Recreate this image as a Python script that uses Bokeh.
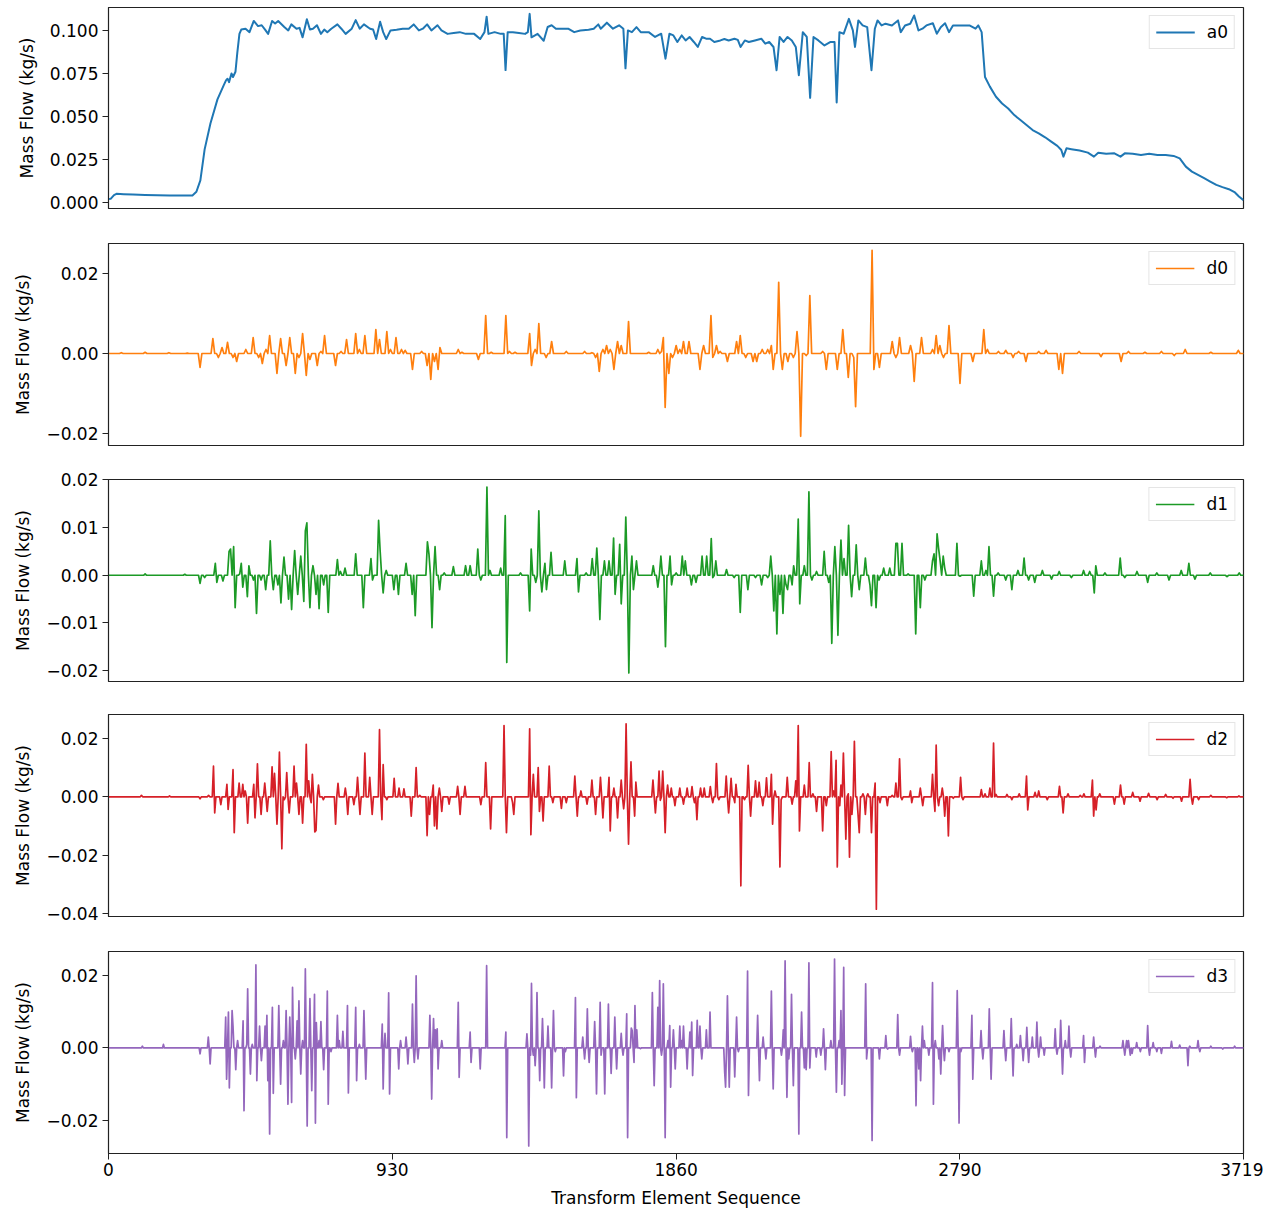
import numpy as np
from bokeh.plotting import figure
from bokeh.layouts import column
from bokeh.models import FixedTicker, CustomJSTickFormatter, Range1d
from bokeh.embed import file_html
from bokeh.resources import INLINE

# ---------------- data ----------------
x_ticks = [0, 930, 1860, 2790, 3719]
x_label = "Transform Element Sequence"
y_label = "Mass Flow (kg/s)"
series_names = ["a0", "d0", "d1", "d2", "d3"]
colors = ["#1f77b4", "#ff7f0e", "#1c9a26", "#d62028", "#9467bd"]

# approximation a0: (sequence index, value)
a0 = [(0, 0.0022), (7, 0.0023), (18, 0.0045), (26, 0.0052), (50, 0.0050), (80, 0.0048), (120, 0.0046),
      (160, 0.0044), (200, 0.0043), (240, 0.0042), (275, 0.0043), (288, 0.0064), (301, 0.013), (315, 0.031),
      (334, 0.046), (357, 0.060), (377, 0.068), (385, 0.071), (390, 0.072), (395, 0.070), (403, 0.075),
      (408, 0.073), (416, 0.076), (422, 0.087), (429, 0.098), (435, 0.1005), (449, 0.101), (462, 0.099),
      (476, 0.1055), (490, 0.1025), (502, 0.103), (513, 0.1005), (523, 0.098), (536, 0.1055), (546, 0.104),
      (556, 0.1055), (576, 0.102), (589, 0.100), (599, 0.1035), (616, 0.101), (626, 0.1015), (636, 0.096),
      (650, 0.1065), (660, 0.1005), (670, 0.101), (683, 0.103), (696, 0.098), (707, 0.1005), (717, 0.099),
      (730, 0.101), (750, 0.1035), (763, 0.101), (777, 0.098), (797, 0.101), (810, 0.106), (823, 0.101),
      (837, 0.1035), (857, 0.101), (867, 0.1005), (877, 0.095), (890, 0.105), (900, 0.099), (910, 0.095),
      (924, 0.100), (944, 0.1004), (964, 0.101), (984, 0.101), (1000, 0.1035), (1017, 0.100), (1030, 0.101),
      (1044, 0.1035), (1058, 0.100), (1078, 0.103), (1091, 0.100), (1111, 0.098), (1131, 0.0985),
      (1151, 0.099), (1171, 0.098), (1198, 0.098), (1218, 0.095), (1232, 0.099), (1239, 0.108),
      (1245, 0.098), (1265, 0.099), (1285, 0.098), (1295, 0.098), (1301, 0.077), (1308, 0.099),
      (1325, 0.099), (1345, 0.0985), (1365, 0.098), (1374, 0.099), (1380, 0.1096), (1386, 0.096),
      (1406, 0.098), (1426, 0.094), (1439, 0.102), (1452, 0.103), (1466, 0.101), (1486, 0.101),
      (1506, 0.101), (1526, 0.099), (1546, 0.100), (1573, 0.1004), (1590, 0.101), (1605, 0.1035),
      (1613, 0.101), (1633, 0.1045), (1653, 0.101), (1673, 0.103), (1687, 0.101), (1694, 0.078),
      (1702, 0.100), (1715, 0.099), (1730, 0.1019), (1744, 0.099), (1770, 0.099), (1791, 0.0962),
      (1811, 0.0981), (1825, 0.0836), (1838, 0.0981), (1851, 0.0971), (1864, 0.0933), (1878, 0.0971),
      (1891, 0.0942), (1904, 0.0962), (1918, 0.0933), (1931, 0.0904), (1945, 0.0962), (1958, 0.0952),
      (1971, 0.0952), (1985, 0.0933), (2005, 0.0942), (2018, 0.0950), (2032, 0.0942), (2051, 0.0952),
      (2062, 0.0945), (2071, 0.0904), (2085, 0.0942), (2098, 0.0933), (2118, 0.0942), (2139, 0.0952),
      (2152, 0.0923), (2165, 0.0933), (2179, 0.0904), (2189, 0.0769), (2199, 0.0962), (2212, 0.0933),
      (2225, 0.0962), (2239, 0.0942), (2252, 0.0904), (2262, 0.074), (2275, 0.099), (2288, 0.0962),
      (2299, 0.0609), (2310, 0.0962), (2326, 0.0942), (2346, 0.0913), (2366, 0.0933), (2379, 0.0933),
      (2386, 0.0582), (2395, 0.099), (2409, 0.0981), (2426, 0.1067), (2439, 0.100), (2446, 0.0904),
      (2457, 0.1058), (2471, 0.1029), (2486, 0.1019), (2500, 0.0769), (2511, 0.101), (2520, 0.1058),
      (2533, 0.1029), (2546, 0.1039), (2567, 0.1029), (2587, 0.1058), (2596, 0.099), (2610, 0.1029),
      (2627, 0.1039), (2640, 0.1087), (2654, 0.100), (2667, 0.101), (2680, 0.1029), (2701, 0.1042),
      (2714, 0.0981), (2727, 0.1019), (2741, 0.1042), (2754, 0.099), (2767, 0.1029), (2794, 0.1029),
      (2821, 0.1029), (2841, 0.101), (2850, 0.1029), (2861, 0.099), (2872, 0.073), (2888, 0.0674),
      (2908, 0.0615), (2928, 0.0576), (2948, 0.0547), (2968, 0.0509), (2988, 0.048), (3008, 0.0451),
      (3028, 0.0422), (3048, 0.0403), (3069, 0.038), (3089, 0.0355), (3109, 0.033), (3122, 0.0306),
      (3129, 0.0268), (3139, 0.0316), (3155, 0.0311), (3182, 0.0303), (3209, 0.0291), (3229, 0.0268),
      (3243, 0.0291), (3269, 0.0284), (3296, 0.0287), (3316, 0.0268), (3330, 0.0287), (3356, 0.0284),
      (3383, 0.0278), (3410, 0.0284), (3437, 0.0278), (3464, 0.0278), (3490, 0.0272), (3510, 0.0258),
      (3530, 0.021), (3550, 0.0181), (3570, 0.0162), (3590, 0.0143), (3610, 0.0123), (3630, 0.0104),
      (3650, 0.0091), (3671, 0.0079), (3691, 0.006), (3704, 0.0037), (3719, 0.0015)]

# detail series: non-zero coefficients (sequence index, value); all other samples are ~0
d0 = [(40, 0.0002), (120, 0.0003), (200, 0.0002), (260, 0.0001),
      (301, -0.0035), (341, 0.0037), (357, -0.001), (374, 0.0015), (390, 0.0028), (406, -0.001),
      (423, -0.002), (449, 0.001), (475, 0.004), (492, -0.001), (501, -0.0025), (518, 0.001), (531, 0.0045),
      (550, -0.005), (564, 0.0037), (577, 0.0), (583, -0.003), (596, 0.004), (609, -0.005), (623, -0.001),
      (636, 0.005), (649, -0.0055), (662, -0.0015), (682, -0.003), (695, 0.0005), (711, 0.0045), (727, 0.0),
      (744, -0.003), (760, 0.0005), (777, 0.0035), (793, 0.0), (809, 0.005), (822, 0.001), (839, 0.0045),
      (855, 0.0), (878, 0.006), (891, 0.0035), (911, 0.0055), (924, 0.001), (944, 0.004), (957, 0.001),
      (973, 0.0008), (999, -0.004), (1012, 0.0), (1026, 0.0005), (1042, -0.003), (1055, -0.0065),
      (1068, -0.002), (1081, -0.004), (1088, 0.0015), (1144, 0.001), (1160, 0.0003), (1212, -0.0015),
      (1239, 0.0095), (1252, 0.0003), (1301, 0.0095), (1314, 0.0005), (1334, 0.0003), (1380, 0.005),
      (1386, -0.003), (1399, 0.001), (1412, 0.0075), (1435, -0.001), (1452, 0.003), (1497, 0.0005),
      (1563, 0.0005), (1586, 0.0002), (1599, -0.001), (1608, -0.0045), (1622, 0.001), (1632, 0.002),
      (1642, 0.001), (1655, -0.004), (1668, 0.003), (1678, 0.002), (1701, 0.008), (1769, 0.0003),
      (1799, 0.001), (1812, 0.0005), (1819, 0.004), (1825, -0.0135), (1838, -0.005), (1845, -0.001),
      (1858, 0.002), (1871, 0.001), (1884, 0.003), (1904, 0.003), (1937, -0.004), (1950, 0.002),
      (1973, 0.0095), (1979, -0.001), (1992, 0.002), (2005, 0.0005), (2025, -0.002), (2058, 0.003),
      (2071, 0.0045), (2090, -0.001), (2110, -0.002), (2127, -0.002), (2140, 0.001), (2159, 0.001),
      (2172, 0.002), (2179, -0.004), (2195, 0.0178), (2208, -0.004), (2225, -0.002), (2245, -0.001),
      (2258, 0.0055), (2271, -0.0207), (2284, -0.0005), (2300, 0.0145), (2340, 0.0005), (2353, -0.004),
      (2385, -0.004), (2405, 0.006), (2425, -0.006), (2441, -0.001), (2451, -0.0133), (2500, 0.0258),
      (2510, -0.004), (2526, -0.0035), (2566, 0.003), (2579, -0.001), (2595, 0.004), (2628, 0.002),
      (2641, -0.007), (2661, 0.004), (2700, 0.001), (2713, 0.0045), (2726, 0.002), (2739, -0.001),
      (2752, 0.007), (2788, -0.0075), (2834, -0.002), (2867, 0.006), (2880, 0.001), (2913, 0.0005),
      (2942, 0.0008), (2962, -0.001), (2982, 0.0005), (3008, -0.002), (3047, 0.0005), (3074, 0.0008),
      (3116, -0.004), (3126, -0.005), (3182, 0.0005), (3250, -0.0008), (3316, -0.002), (3342, 0.0005),
      (3395, 0.0003), (3450, 0.0005), (3490, -0.0005), (3529, 0.001), (3611, 0.0003), (3703, 0.0008)]

d1 = [(120, 0.0003), (250, 0.0002),
      (301, -0.0017), (315, -0.0005), (348, 0.0025), (357, -0.0015), (377, -0.0012), (393, 0.005),
      (400, 0.0055), (409, 0.006), (413, -0.0068), (429, 0.0003), (436, 0.0025), (442, -0.0025),
      (455, -0.0045), (462, 0.002), (475, -0.001), (485, -0.008), (501, -0.001), (514, -0.003),
      (531, 0.0072), (541, -0.003), (554, -0.002), (564, -0.0058), (577, 0.0038), (590, -0.005),
      (600, -0.0072), (609, 0.0052), (619, -0.004), (632, 0.004), (639, -0.0055), (646, 0.0093),
      (652, 0.011), (659, -0.0068), (672, 0.002), (678, -0.004), (691, -0.007), (705, -0.002),
      (718, -0.0078), (750, 0.0033), (760, 0.0008), (777, 0.0015), (809, 0.0045), (836, -0.0068),
      (858, 0.0035), (865, -0.001), (885, 0.0115), (891, 0.0052), (898, -0.0037), (911, 0.001),
      (937, -0.003), (950, -0.004), (976, 0.0025), (996, -0.004), (1006, -0.0085), (1045, 0.007),
      (1052, 0.0045), (1058, -0.011), (1071, 0.006), (1085, -0.003), (1098, 0.0005), (1130, 0.0018),
      (1170, 0.002), (1186, 0.002), (1212, 0.0055), (1222, -0.001), (1239, 0.0185), (1252, 0.001),
      (1284, 0.0015), (1301, 0.0125), (1307, -0.0183), (1350, 0.0005), (1380, -0.0075), (1386, 0.0055),
      (1399, -0.0015), (1412, 0.0135), (1419, -0.0035), (1429, 0.0025), (1435, -0.003), (1452, 0.0048),
      (1494, 0.003), (1534, 0.0035), (1540, -0.0035), (1563, 0.0005), (1586, 0.0035), (1602, 0.0057),
      (1612, -0.0093), (1625, 0.003), (1638, 0.003), (1655, 0.0078), (1661, -0.004), (1674, 0.0065),
      (1681, -0.006), (1694, 0.0122), (1704, -0.0205), (1717, 0.004), (1720, -0.003), (1730, 0.003),
      (1783, 0.002), (1799, -0.0025), (1812, 0.004), (1825, -0.015), (1838, 0.004), (1845, -0.002),
      (1858, 0.0005), (1878, 0.004), (1891, 0.003), (1910, -0.002), (1923, -0.0015), (1943, 0.004),
      (1959, 0.004), (1973, 0.0077), (1979, -0.0005), (1992, 0.003), (2025, 0.0012), (2051, -0.0005),
      (2071, -0.0078), (2097, -0.003), (2120, -0.0005), (2140, -0.002), (2159, -0.0005), (2172, 0.004),
      (2179, -0.0075), (2192, -0.0123), (2199, -0.004), (2208, -0.008), (2218, -0.002), (2225, -0.003),
      (2238, -0.002), (2245, 0.002), (2258, 0.0118), (2264, -0.006), (2281, 0.002), (2297, 0.0175),
      (2307, -0.001), (2320, 0.0008), (2343, 0.005), (2359, -0.0015), (2369, -0.0143), (2379, 0.006),
      (2389, -0.0126), (2399, 0.0074), (2412, 0.0035), (2425, 0.0105), (2435, -0.0045), (2448, 0.0064),
      (2461, -0.003), (2480, 0.0036), (2493, -0.002), (2500, -0.0064), (2513, -0.0068), (2526, -0.001),
      (2539, 0.0015), (2559, 0.0015), (2579, 0.0067), (2585, 0.0067), (2602, 0.0067), (2621, 0.0003),
      (2644, -0.0123), (2661, -0.0068), (2674, -0.001), (2700, 0.003), (2707, 0.0045), (2713, 0.0087),
      (2720, 0.0056), (2726, 0.003), (2733, 0.004), (2739, 0.0015), (2782, 0.0067), (2788, -0.0002),
      (2834, -0.0044), (2860, 0.003), (2874, 0.001), (2887, 0.006), (2900, -0.0044), (2913, 0.0005),
      (2942, -0.001), (2962, -0.003), (2982, 0.001), (3001, 0.0036), (3015, -0.001), (3034, -0.0015),
      (3060, 0.001), (3090, -0.0008), (3116, 0.0008), (3156, -0.0005), (3195, 0.001), (3215, 0.0008),
      (3228, -0.0037), (3234, 0.002), (3264, 0.0005), (3316, 0.0036), (3329, -0.0005), (3368, 0.0008),
      (3404, -0.0015), (3437, 0.0005), (3477, -0.001), (3516, 0.001), (3542, 0.0025), (3558, -0.0008),
      (3611, 0.0005), (3663, -0.0003), (3703, 0.0005)]

d2 = [(108, 0.0005), (200, 0.0003),
      (301, -0.0007), (328, 0.0005), (342, 0.0105), (349, -0.0055), (368, -0.0027), (389, 0.0043),
      (392, -0.0043), (409, 0.0093), (413, -0.0123), (429, 0.0047), (442, 0.0043), (449, 0.002),
      (455, -0.009), (475, 0.0043), (482, -0.0072), (489, 0.0113), (501, -0.006), (514, 0.0047),
      (521, -0.005), (537, 0.0103), (544, 0.008), (554, -0.0094), (560, 0.0153), (567, -0.0178),
      (577, -0.001), (583, 0.0083), (593, -0.0055), (606, 0.0105), (616, 0.0047), (626, -0.006),
      (636, -0.009), (646, 0.018), (655, 0.0055), (662, -0.002), (668, 0.0077), (675, -0.012),
      (682, -0.0115), (688, 0.004), (705, -0.001), (744, -0.0094), (750, 0.0046), (777, 0.003),
      (783, -0.006), (803, -0.0027), (816, 0.0067), (822, -0.006), (842, 0.015), (858, 0.0067),
      (865, -0.006), (888, 0.023), (895, -0.0078), (900, 0.011), (911, -0.001), (937, 0.0063),
      (950, 0.003), (970, 0.0027), (990, -0.0066), (1009, 0.010), (1019, 0.0005), (1045, -0.0133),
      (1052, -0.006), (1062, 0.004), (1068, -0.010), (1075, -0.011), (1085, 0.003), (1091, -0.005),
      (1117, -0.0025), (1144, 0.0036), (1150, -0.006), (1170, 0.0036), (1219, -0.0027), (1235, 0.0117),
      (1252, -0.011), (1294, 0.0244), (1304, -0.0123), (1324, -0.002), (1330, -0.006), (1380, 0.0233),
      (1383, -0.013), (1393, 0.0077), (1406, 0.010), (1412, -0.005), (1425, -0.0083), (1445, 0.0105),
      (1458, -0.002), (1484, -0.004), (1501, -0.002), (1530, 0.0071), (1537, -0.0066), (1547, 0.002),
      (1566, -0.0025), (1583, 0.0057), (1596, -0.006), (1612, 0.0067), (1619, -0.0072), (1638, 0.0067),
      (1645, -0.0117), (1655, 0.003), (1668, -0.0072), (1681, 0.0057), (1688, -0.0041), (1697, 0.025),
      (1704, -0.0162), (1714, 0.012), (1724, -0.0066), (1730, 0.005), (1783, 0.0057), (1790, -0.0055),
      (1804, 0.0088), (1810, -0.0012), (1818, 0.0088), (1825, -0.0123), (1832, 0.004), (1845, 0.003),
      (1858, -0.003), (1871, 0.003), (1884, -0.0025), (1897, 0.003), (1910, 0.0035), (1922, -0.002),
      (1930, -0.0078), (1940, 0.003), (1950, 0.003), (1972, 0.0035), (1979, -0.002), (1992, 0.0114),
      (1999, -0.001), (2025, 0.0071), (2032, -0.0055), (2042, 0.0063), (2051, -0.002), (2058, 0.0043),
      (2074, -0.0305), (2084, -0.001), (2096, 0.0108), (2104, -0.0066), (2119, 0.0055), (2132, 0.005),
      (2146, -0.003), (2157, 0.0065), (2172, 0.0077), (2177, -0.0094), (2186, 0.002), (2199, -0.024),
      (2205, -0.001), (2222, 0.0067), (2238, -0.0025), (2251, 0.0055), (2261, 0.0244), (2264, -0.0117),
      (2281, 0.004), (2294, 0.0117), (2307, 0.001), (2320, -0.005), (2340, -0.0117), (2353, -0.003),
      (2369, 0.0155), (2376, 0.002), (2382, 0.0125), (2389, -0.024), (2396, -0.003), (2402, 0.004),
      (2409, 0.015), (2415, -0.0145), (2422, 0.001), (2428, -0.0207), (2435, -0.006), (2444, 0.019),
      (2454, -0.006), (2461, -0.0123), (2471, 0.001), (2480, -0.006), (2490, 0.001), (2500, -0.0123),
      (2513, 0.0047), (2517, -0.0385), (2527, -0.002), (2553, -0.003), (2566, 0.0005), (2579, 0.0047),
      (2594, 0.013), (2601, -0.001), (2627, 0.002), (2634, -0.002), (2660, 0.003), (2667, -0.003),
      (2700, 0.0077), (2707, -0.005), (2713, 0.0177), (2720, -0.003), (2733, 0.003), (2740, -0.0066),
      (2753, -0.0134), (2769, -0.0005), (2792, 0.0067), (2798, -0.001), (2861, 0.0025), (2874, 0.001),
      (2887, 0.003), (2900, 0.0184), (2907, 0.0008), (2942, 0.0008), (2962, -0.001), (2982, 0.001),
      (3006, 0.0071), (3012, -0.0045), (3035, 0.0015), (3048, 0.002), (3076, -0.001), (3116, 0.0036),
      (3126, -0.0055), (3142, 0.001), (3182, 0.0005), (3195, 0.001), (3222, 0.0057), (3229, -0.0066),
      (3235, -0.0045), (3250, 0.001), (3297, -0.0025), (3316, 0.004), (3329, -0.0025), (3355, 0.0015),
      (3381, -0.0015), (3410, 0.0012), (3437, -0.001), (3463, 0.0008), (3490, -0.0005), (3516, -0.0015),
      (3542, 0.006), (3550, -0.0025), (3571, -0.001), (3611, 0.0005), (3663, -0.0003), (3703, 0.0003)]

d3 = [(110, 0.0005), (181, 0.001),
      (301, -0.0016), (328, 0.003), (332, -0.0044), (383, 0.0085), (386, -0.0086), (392, 0.0099),
      (397, -0.011), (405, 0.0103), (409, 0.006), (416, -0.006), (422, 0.002), (442, 0.0075),
      (445, -0.0173), (452, 0.001), (455, 0.0163), (465, -0.0072), (472, 0.001), (482, 0.0229),
      (485, -0.009), (495, 0.006), (501, -0.0035), (514, 0.006), (518, 0.009), (521, -0.009),
      (528, -0.0237), (537, 0.0112), (541, -0.0125), (557, 0.0117), (564, -0.010), (573, 0.002),
      (583, 0.0103), (587, -0.0155), (593, 0.0085), (600, -0.015), (603, 0.0167), (612, -0.003),
      (619, 0.0075), (623, 0.013), (629, -0.0072), (636, 0.002), (646, 0.0218), (652, -0.0215),
      (659, 0.0136), (665, -0.0118), (675, 0.0148), (677, -0.0207), (682, 0.007), (689, 0.002),
      (697, 0.0073), (704, -0.006), (717, 0.0157), (720, -0.0155), (730, -0.001), (750, 0.009),
      (756, 0.002), (769, 0.0046), (783, 0.0117), (787, -0.0124), (810, 0.0112), (814, -0.009),
      (823, 0.001), (836, 0.0103), (843, -0.0086), (897, 0.0066), (901, -0.0113), (906, 0.004),
      (917, 0.0152), (921, -0.0127), (950, -0.0058), (957, 0.002), (974, 0.003), (980, -0.0044),
      (997, 0.0121), (1002, -0.004), (1009, 0.0199), (1014, -0.003), (1054, 0.009), (1058, -0.0141),
      (1065, 0.0081), (1071, 0.005), (1078, 0.0053), (1081, -0.0058), (1091, 0.002), (1145, 0.0126),
      (1149, -0.0081), (1185, 0.0044), (1189, -0.004), (1218, -0.0058), (1238, 0.0227), (1303, 0.0044),
      (1305, -0.0247), (1372, 0.0039), (1376, -0.027), (1382, -0.002), (1386, 0.0178), (1392, -0.002),
      (1399, -0.0049), (1405, 0.0153), (1412, -0.009), (1422, 0.0081), (1429, -0.011), (1439, 0.006),
      (1452, -0.011), (1459, 0.0103), (1465, -0.001), (1492, -0.0077), (1498, -0.001), (1530, 0.0139),
      (1533, -0.0137), (1553, 0.003), (1559, -0.003), (1570, 0.0108), (1575, -0.004), (1592, 0.0073),
      (1599, -0.0127), (1610, 0.0126), (1615, -0.002), (1626, -0.0127), (1639, 0.0121), (1646, -0.007),
      (1660, 0.0085), (1666, -0.0058), (1680, 0.004), (1686, -0.002), (1697, 0.0094), (1701, -0.0247),
      (1713, 0.0055), (1717, 0.0048), (1721, -0.004), (1724, 0.0117), (1731, 0.005), (1743, -0.0002),
      (1783, 0.0153), (1788, -0.0104), (1799, 0.0112), (1805, 0.0186), (1812, -0.002), (1819, 0.0177),
      (1825, -0.0247), (1832, 0.002), (1838, 0.0062), (1842, -0.0108), (1851, 0.005), (1857, -0.0058),
      (1871, 0.006), (1878, 0.002), (1884, 0.006), (1895, -0.0058), (1904, 0.0044), (1910, 0.0071),
      (1914, -0.0076), (1930, 0.0076), (1937, 0.006), (1943, -0.003), (1959, 0.005), (1972, 0.0099),
      (2018, -0.0067), (2022, -0.0108), (2028, 0.0144), (2035, -0.0108), (2051, -0.008), (2058, 0.0085),
      (2064, -0.001), (2094, 0.0212), (2097, -0.0131), (2126, 0.009), (2132, -0.009), (2146, 0.003),
      (2153, -0.003), (2172, 0.0157), (2177, -0.0113), (2205, -0.002), (2212, 0.005), (2218, 0.024),
      (2222, -0.0136), (2228, -0.003), (2238, 0.0148), (2245, -0.0104), (2261, -0.0237), (2270, 0.0099),
      (2280, -0.0055), (2287, -0.006), (2294, 0.0235), (2299, -0.0055), (2320, -0.0025), (2333, -0.002),
      (2343, 0.0053), (2349, -0.006), (2366, 0.002), (2379, 0.0245), (2385, -0.0122), (2393, 0.002),
      (2399, 0.0103), (2404, -0.010), (2409, 0.0222), (2413, -0.0131), (2480, 0.0177), (2485, -0.003),
      (2503, -0.0255), (2527, -0.003), (2546, 0.0034), (2553, -0.0003), (2586, 0.0092), (2591, -0.002),
      (2627, 0.0032), (2634, -0.001), (2645, -0.0159), (2654, -0.0058), (2661, -0.009), (2667, 0.006),
      (2674, 0.002), (2687, -0.002), (2700, 0.018), (2704, -0.0155), (2710, 0.002), (2720, -0.003),
      (2726, -0.0072), (2733, 0.0062), (2739, -0.0035), (2755, -0.001), (2781, 0.0158), (2786, -0.0207),
      (2792, -0.001), (2828, 0.009), (2832, -0.0086), (2858, 0.0048), (2864, -0.003), (2886, 0.0108),
      (2891, -0.0086), (2935, 0.0048), (2940, -0.0035), (2958, 0.0081), (2963, -0.0077), (2976, 0.001),
      (2989, 0.0034), (2996, -0.0035), (3009, 0.0057), (3015, -0.004), (3028, 0.003), (3041, 0.0071),
      (3048, -0.0025), (3054, 0.003), (3067, -0.002), (3102, 0.0053), (3108, -0.0017), (3120, 0.0076),
      (3126, -0.0072), (3136, 0.002), (3147, 0.006), (3153, -0.0025), (3195, 0.0034), (3199, -0.004),
      (3228, 0.003), (3235, -0.0025), (3250, 0.0005), (3323, 0.002), (3329, -0.002), (3336, 0.002),
      (3342, 0.002), (3349, -0.002), (3355, -0.0015), (3368, 0.0015), (3382, -0.001), (3404, 0.0062),
      (3410, -0.002), (3423, 0.0015), (3436, -0.001), (3450, -0.0015), (3483, 0.0018), (3509, 0.0008),
      (3536, -0.0049), (3542, 0.0005), (3571, 0.002), (3577, -0.001), (3611, 0.0005), (3650, -0.0003),
      (3690, 0.0005)]

detail_steps = {"d0": 6, "d1": 5, "d2": 4, "d3": 3}

y_ranges = {"a0": (-0.0033, 0.1133), "d0": (-0.023, 0.0275), "d1": (-0.0223, 0.0201),
            "d2": (-0.041, 0.0282), "d3": (-0.0291, 0.0266)}
y_ticks = {"a0": [0, 0.025, 0.05, 0.075, 0.1], "d0": [-0.02, 0, 0.02],
           "d1": [-0.02, -0.01, 0, 0.01, 0.02], "d2": [-0.04, -0.02, 0, 0.02], "d3": [-0.02, 0, 0.02]}
y_decimals = {"a0": 3, "d0": 2, "d1": 2, "d2": 2, "d3": 2}


def detail_line(pts, step):
    grid = np.arange(0, 3719 + step, step)
    ys = np.zeros(len(grid))
    used = set()
    for x, v in pts:
        i = int(round(x / step))
        while i in used:
            i += 1
        used.add(i)
        ys[i] = v
    return grid, ys


FONT = "DejaVu Sans"
FS = "17px"

# layout (pixels)
frame_heights = [201, 202, 202, 202, 202]
top_borders = [7, 12, 12, 12, 12]
bottom_borders = [23, 22, 21, 23, 57]

data = {"a0": a0, "d0": d0, "d1": d1, "d2": d2, "d3": d3}
figs = []
for k, name in enumerate(series_names):
    last = (k == len(series_names) - 1)
    p = figure(frame_width=1135, frame_height=frame_heights[k],
               min_border_left=108, min_border_right=20,
               min_border_top=top_borders[k], min_border_bottom=bottom_borders[k],
               x_range=Range1d(0, 3719), y_range=Range1d(*y_ranges[name]),
               x_axis_location="below" if last else None,
               output_backend="svg", toolbar_location=None)
    if name == "a0":
        xs = [t[0] for t in a0]
        ys = [t[1] for t in a0]
        lw = 2.0
    else:
        xs, ys = detail_line(data[name], detail_steps[name])
        lw = 1.7
    p.line(xs, ys, line_color=colors[k], line_width=lw, line_join="round", legend_label=name)

    p.xgrid.visible = False
    p.ygrid.visible = False
    p.outline_line_color = "#222222"
    p.outline_line_width = 1.2
    p.background_fill_color = "white"
    p.border_fill_color = "white"

    ya = p.yaxis[0]
    ya.ticker = FixedTicker(ticks=y_ticks[name])
    ya.formatter = CustomJSTickFormatter(
        code="return tick.toFixed(%d).replace('-', '\\u2212');" % y_decimals[name])
    ya.axis_label = y_label
    ya.axis_label_text_font = FONT
    ya.axis_label_text_font_size = FS
    ya.axis_label_text_font_style = "normal"
    ya.axis_label_text_color = "#000000"
    ya.axis_label_standoff = 10
    ya.major_label_text_font = FONT
    ya.major_label_text_font_size = FS
    ya.major_label_text_color = "#000000"
    ya.major_label_standoff = 4
    ya.major_tick_out = 6
    ya.major_tick_in = 0
    ya.minor_tick_line_color = None
    ya.axis_line_color = "#222222"
    ya.major_tick_line_color = "#222222"

    if last:
        xa = p.xaxis[0]
        xa.ticker = FixedTicker(ticks=x_ticks)
        xa.axis_label = x_label
        xa.axis_label_text_font = FONT
        xa.axis_label_text_font_size = FS
        xa.axis_label_text_font_style = "normal"
        xa.axis_label_text_color = "#000000"
        xa.axis_label_standoff = 9
        xa.major_label_text_font = FONT
        xa.major_label_text_font_size = FS
        xa.major_label_text_color = "#000000"
        xa.major_label_standoff = 3
        xa.major_tick_out = 6
        xa.major_tick_in = 0
        xa.minor_tick_line_color = None
        xa.axis_line_color = "#222222"
        xa.major_tick_line_color = "#222222"

    lg = p.legend[0]
    lg.location = "top_right"
    lg.margin = 8
    lg.padding = 6
    lg.spacing = 0
    lg.glyph_width = 39
    lg.glyph_height = 20
    lg.label_height = 20
    lg.label_standoff = 12
    lg.label_text_font = FONT
    lg.label_text_font_size = FS
    lg.label_text_color = "#000000"
    lg.border_line_color = "#cccccc"
    lg.border_line_width = 1
    lg.background_fill_color = "white"
    lg.background_fill_alpha = 0.8
    figs.append(p)

layout = column(*figs)
open("out.html", "w").write(file_html(layout, INLINE))
